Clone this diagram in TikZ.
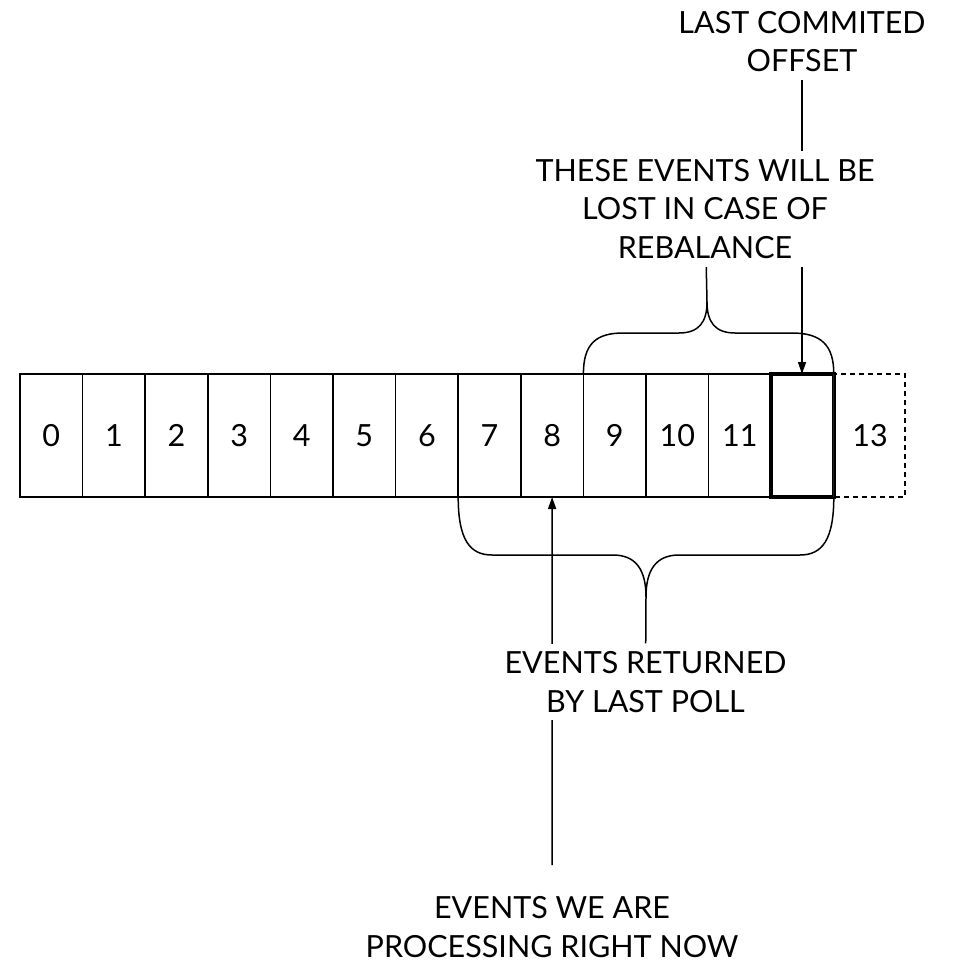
\documentclass[tikz,border=0pt]{standalone}
\usepackage{fontspec}
\setmainfont{Lato}
\usetikzlibrary{arrows.meta,calc}
\pgfdeclarelayer{bg}
\pgfsetlayers{bg,main}
\newcommand{\lblfont}{\fontsize{30.5}{38.5}\selectfont}
\begin{document}
\begin{tikzpicture}[x=1pt,y=-1pt,
  cell/.style={draw,line width=1.5pt,minimum width=62.6pt,minimum height=123pt,inner sep=0pt,outer sep=0pt,anchor=center,font=\lblfont},
  lbl/.style={align=center,fill=white,inner sep=8pt,font=\lblfont},
  conn/.style={line width=1.5pt},
  arr/.style={conn,-{Triangle[length=12pt,width=8pt]}},
]
\useasboundingbox (0,0) rectangle (953,966);

% cells
\foreach \i in {0,...,11} \node[cell] (c\i) at ({20+62.6*(\i+0.5)},435.5) {\i};
\node[cell,line width=3.5pt] (c12) at (802.5,435.5) {};
\node[cell,dash pattern=on 5pt off 4pt,minimum width=70pt] (c13) at (870,435.5) {13};
\draw[draw=red!45!black,line width=1pt] (c12.north east) -- (c12.south east);

% labels
\node[lbl] (off) at (802,41.5) {LAST COMMITED\\OFFSET};
\node[lbl] (lost) at (705,209) {THESE EVENTS WILL BE\\LOST IN CASE OF\\REBALANCE};
\node[lbl] (ret) at (645.5,682) {EVENTS RETURNED\\BY LAST POLL};
\node[lbl,fill=none,inner sep=1pt] (proc) at (552,927) {EVENTS WE ARE\\PROCESSING RIGHT NOW};

% braces
\coordinate (tipT) at (707,302);
\coordinate (tipB) at (646,597);
\draw[conn] (583.4,374) .. controls (583.4,345) and (595,333) .. (623,333) -- (679,333)
  .. controls (699,333) and (707,322) .. (tipT)
  .. controls (707,322) and (715,333) .. (735,333) -- (792,333)
  .. controls (821,333) and (833.8,345) .. (833.8,374);
\draw[conn] (458.2,497) .. controls (458.2,540) and (470,555) .. (492,555) -- (613,555)
  .. controls (636,555) and (646,570) .. (tipB)
  .. controls (646,570) and (656,555) .. (679,555) -- (800,555)
  .. controls (822,555) and (833.8,540) .. (833.8,497);

\coordinate (pstart) at (552,865);
\begin{pgfonlayer}{bg}
  \draw[conn] (tipT) -- (lost);
  \draw[conn] (tipB) -- (ret);
  \draw[arr] (off) -- (off |- c12.north);
  \draw[arr] (pstart) -- (c8.south);
\end{pgfonlayer}
\end{tikzpicture}
\end{document}
